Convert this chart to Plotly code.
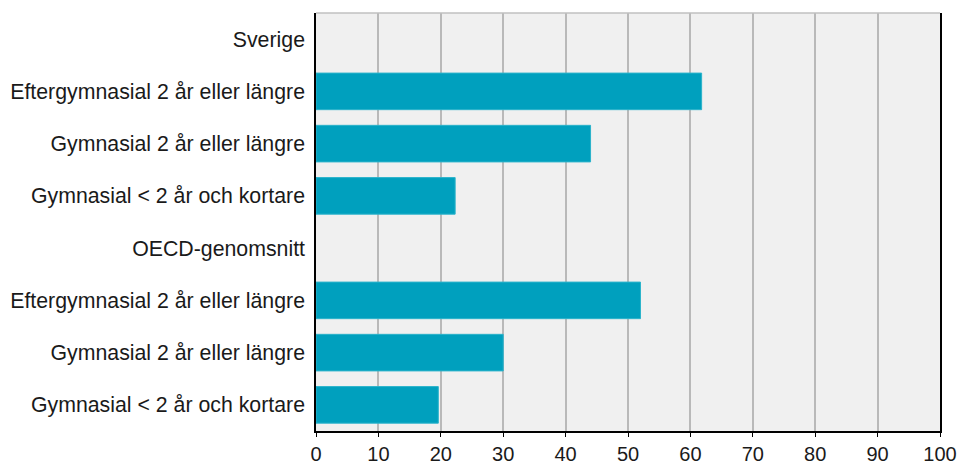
import plotly.graph_objects as go

categories = [
    "Sverige",
    "Eftergymnasial 2 år eller längre",
    "Gymnasial 2 år eller längre",
    "Gymnasial < 2 år och kortare",
    "OECD-genomsnitt",
    "Eftergymnasial 2 år eller längre",
    "Gymnasial 2 år eller längre",
    "Gymnasial < 2 år och kortare",
]
values = [None, 61.8, 44.0, 22.3, None, 52.0, 30.0, 19.6]
x_ticks = [0, 10, 20, 30, 40, 50, 60, 70, 80, 90, 100]

positions = list(range(len(categories)))

fig = go.Figure()
fig.add_trace(go.Bar(
    y=positions,
    x=values,
    orientation="h",
    width=0.7,
    marker=dict(color="#00a0be", line=dict(color="#2bb3cb", width=1)),
    hoverinfo="x",
))

fig.update_layout(
    width=959,
    height=466,
    margin=dict(l=316, r=19, t=13, b=35),
    paper_bgcolor="white",
    plot_bgcolor="#f0f0f0",
    font=dict(family="Liberation Sans, Arial, sans-serif", size=21.3, color="#1a1a1a"),
    showlegend=False,
)
fig.update_xaxes(
    range=[0, 100],
    tickvals=x_ticks,
    ticktext=[str(t) for t in x_ticks],
    showgrid=True,
    gridcolor="#b9b9b9",
    gridwidth=1.5,
    showline=True,
    linecolor="black",
    linewidth=1.5,
    ticks="outside",
    ticklen=4,
    tickcolor="black",
    tickfont=dict(size=20),
    zeroline=False,
    automargin=False,
)
fig.update_yaxes(
    range=[len(categories) - 0.5, -0.5],
    tickvals=positions,
    ticktext=categories,
    showgrid=False,
    showline=True,
    linecolor="black",
    linewidth=1.5,
    mirror=True,
    ticks="",
    ticklabelstandoff=5,
    tickfont=dict(size=21.3),
    zeroline=False,
    automargin=False,
)
fig.add_shape(type="line", xref="paper", yref="paper", x0=0, x1=1, y0=1, y1=1,
              line=dict(color="#c0c0c0", width=1.5))

fig.write_html(
    "out.html",
    config={"displayModeBar": False},
    post_script="document.body.style.margin='0';document.body.style.padding='0';",
)
